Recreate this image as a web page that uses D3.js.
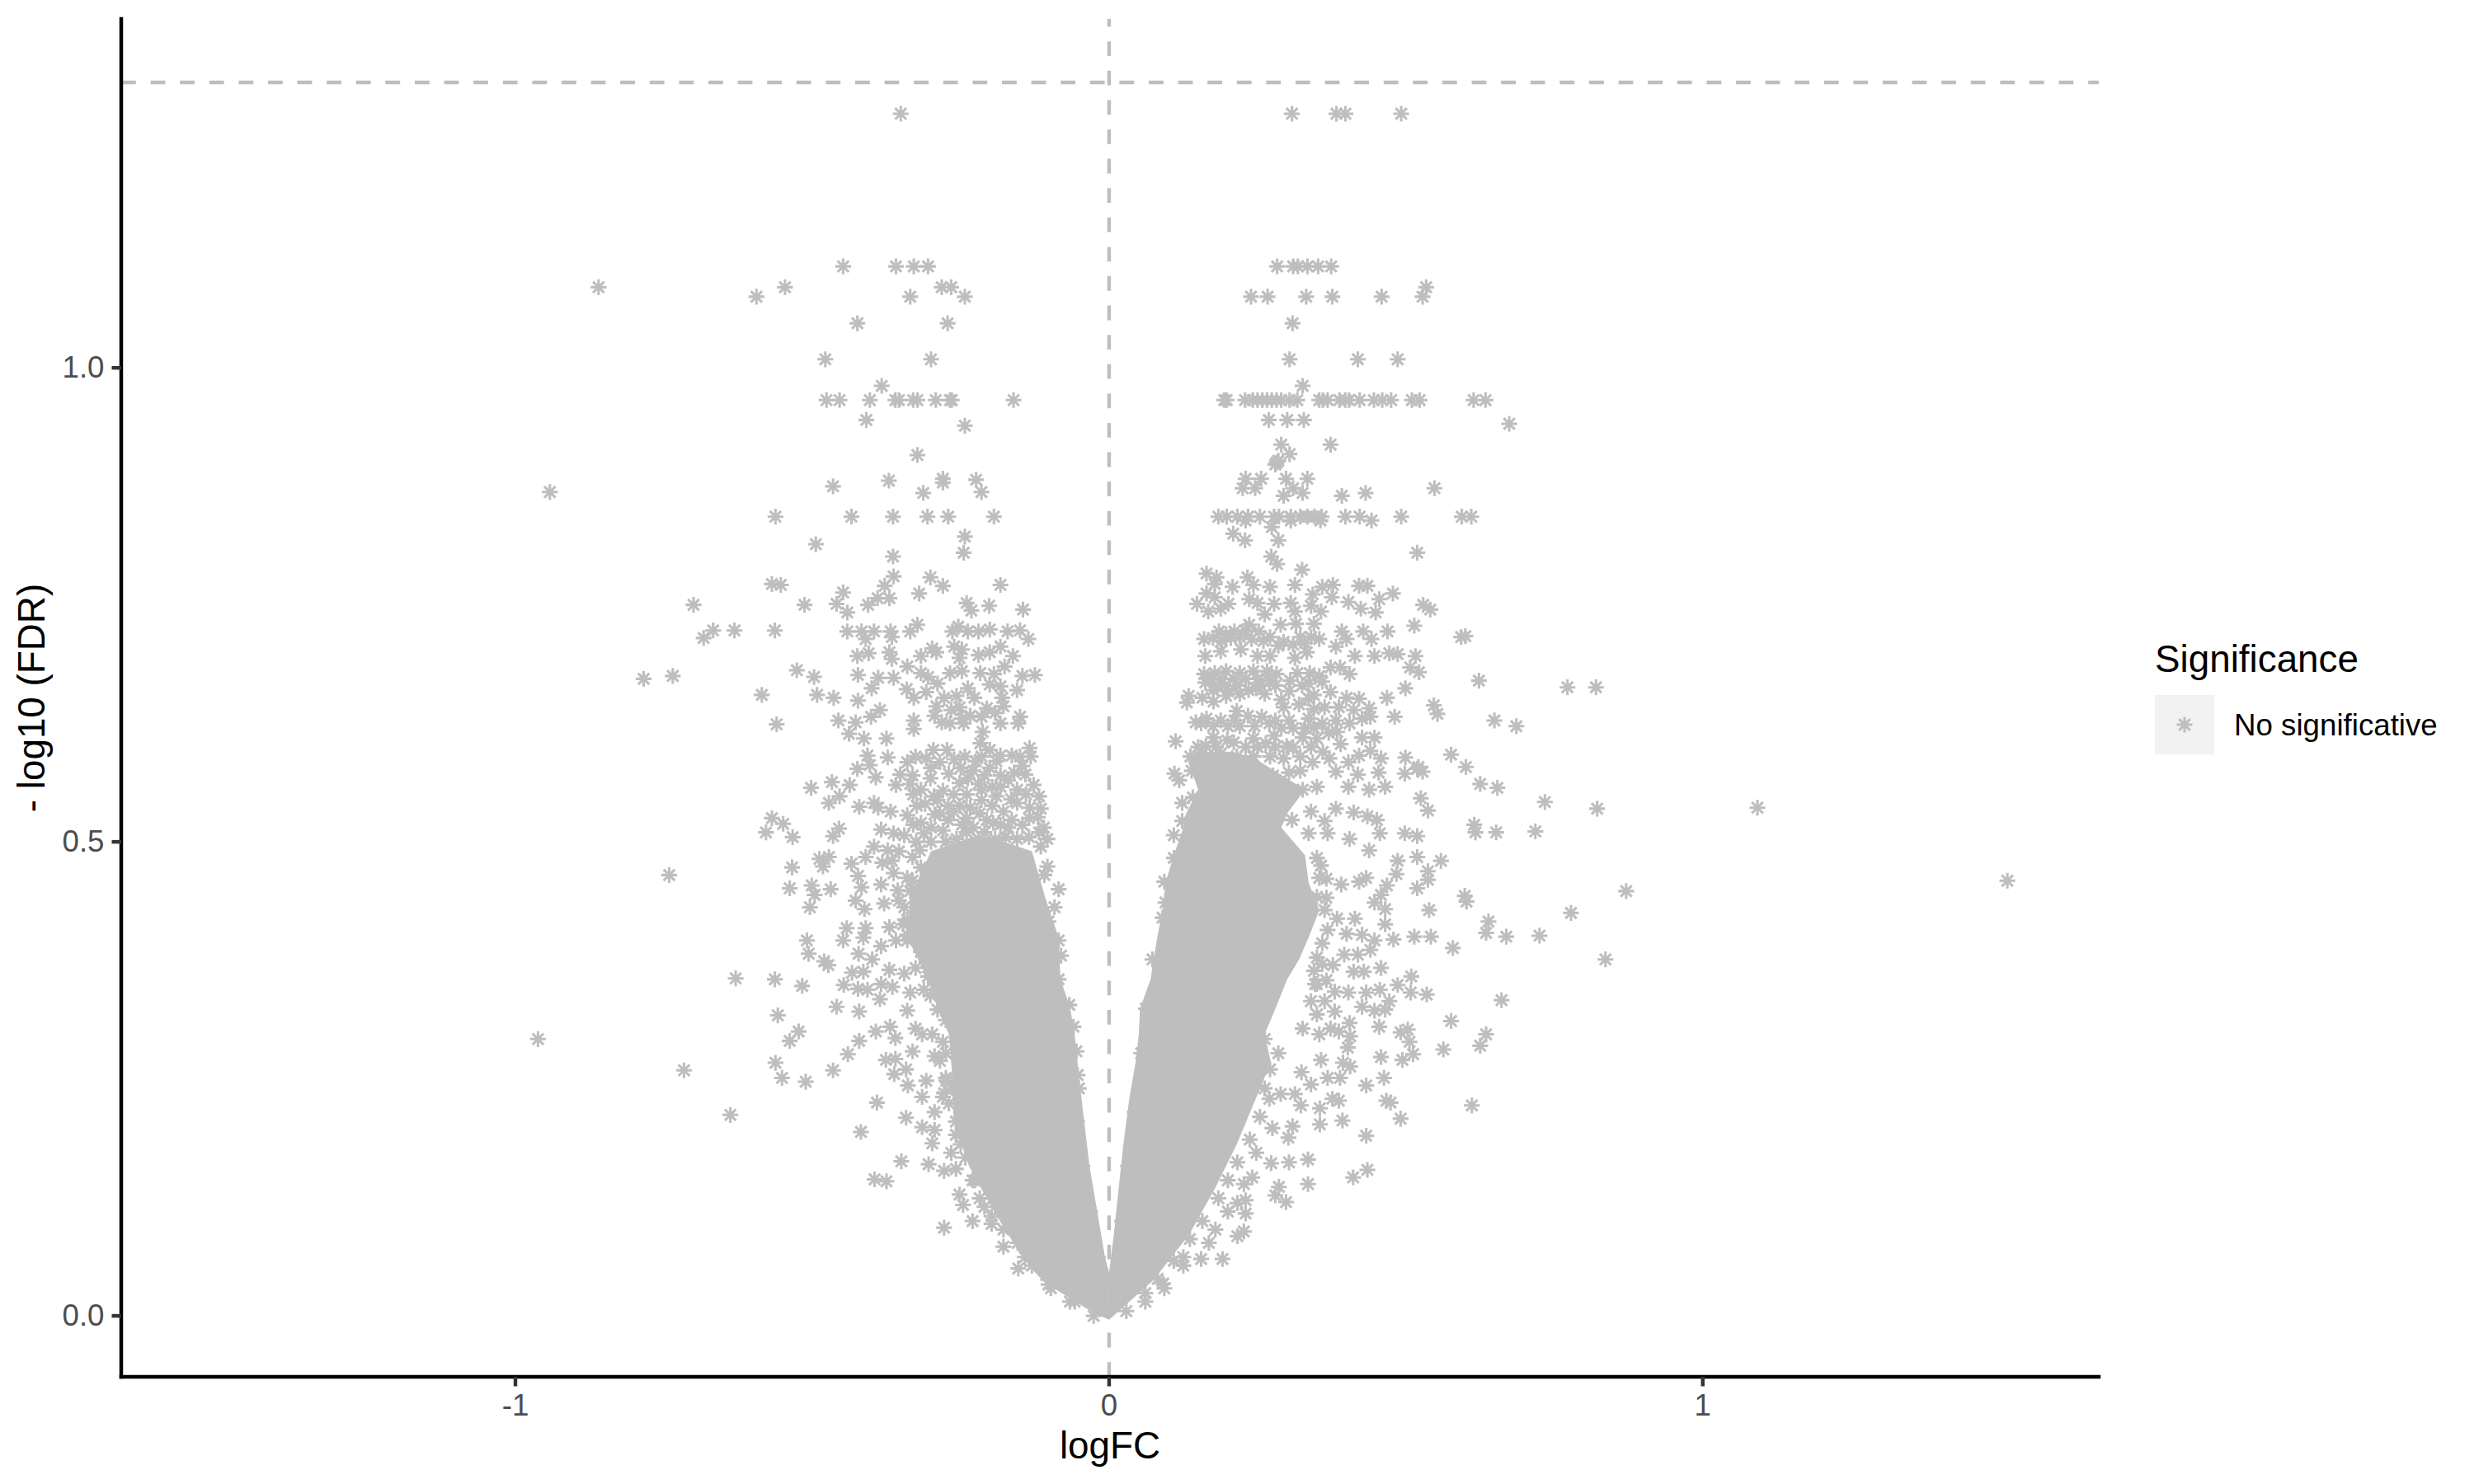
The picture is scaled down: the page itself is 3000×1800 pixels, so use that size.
<!DOCTYPE html>
<html>
<head>
<meta charset="utf-8">
<script src="https://cdn.jsdelivr.net/npm/d3@7"></script>
<style>
  html, body { margin: 0; padding: 0; background: #fff; }
  text { font-family: "Liberation Sans", Arial, sans-serif; }
</style>
</head>
<body>
<div id="chart"></div>
<script>
// values: [logFC, -log10(FDR)]
var xTicks = [-1, 0, 1];
var yTicks = [0, 0.5, 1];
var xDomain = [-1.664, 1.667];
var yDomain = [-0.0643, 1.368];
var hLineValue = 1.301;
var vLineValue = 0;
var legendTitle = "Significance";
var legendLabel = "No significative";

var upperLeft = [[-.351,1.268],[-.448,1.107],[-.359,1.107],[-.329,1.107],[-.305,1.107],[-.860,1.085],[-.546,1.085],[-.282,1.085],[-.266,1.085],[-.594,1.075],[-.335,1.075],[-.243,1.075],[-.424,1.047],[-.272,1.047],[-.478,1.009],[-.300,1.009],[-.383,.981],[-.476,.966],[-.454,.966],[-.403,.966],[-.360,.966],[-.354,.966],[-.330,.966],[-.323,.966],[-.292,.966],[-.268,.966],[-.265,.966],[-.161,.966],[-.409,.945],[-.243,.939],[-.323,.908],[-.371,.881],[-.280,.883],[-.280,.879],[-.224,.882],[-.465,.875],[-.313,.868],[-.215,.869],[-.942,.869],[-.562,.843],[-.434,.843],[-.364,.843],[-.306,.843],[-.271,.843],[-.194,.843],[-.243,.822],[-.494,.814],[-.245,.805],[-.364,.801],[-.363,.780],[-.301,.779],[-.568,.772],[-.553,.771],[-.378,.770],[-.280,.770],[-.183,.771],[-.448,.763],[-.320,.762],[-.390,.757],[-.370,.757],[-.700,.750],[-.513,.750],[-.459,.751],[-.406,.750],[-.441,.742],[-.240,.752],[-.232,.744],[-.202,.749],[-.145,.745],[-.667,.723],[-.631,.723],[-.563,.723],[-.683,.715]];

var farLeft = [[-.784,.672],[-.735,.675],[-.526,.681],[-.497,.674],[-.585,.655],[-.492,.655],[-.560,.624],[-.502,.557],[-.568,.525],[-.549,.519],[-.578,.510],[-.533,.505],[-.488,.482],[-.482,.474],[-.534,.473],[-.741,.465],[-.538,.451],[-.501,.454],[-.496,.444],[-.504,.431],[-.509,.396],[-.506,.382],[-.480,.374],[-.629,.356],[-.563,.355],[-.517,.348],[-.558,.317],[-.523,.300],[-.538,.290],[-.962,.292],[-.562,.267],[-.716,.259],[-.551,.251],[-.511,.247],[-.638,.212]];

var bottomLeft = [[-.294,.215],[-.342,.209],[-.315,.199],[-.294,.196],[-.418,.194],[-.298,.182],[-.350,.163],[-.304,.160],[-.278,.153],[-.258,.155],[-.266,.172],[-.395,.144],[-.375,.142],[-.252,.128],[-.246,.117],[-.230,.100],[-.198,.097],[-.278,.093],[-.178,.073],[-.153,.050],[-.142,.062],[-.102,.033],[-.226,.143],[-.210,.115],[-.250,.181],[-.258,.205],[-.198,.134],[-.154,.089],[-.122,.062],[-.138,.074],[-.106,.043],[-.058,.015],[-.026,0],[-.054,.205],[-.045,.158],[-.032,.110],[-.019,.062]];

var denseLeftA = [[-.296,.597],[-.273,.597],[-.243,.590],[-.326,.590],[-.308,.588],[-.340,.584],[-.285,.584],[-.261,.587],[-.215,.590],[-.201,.597],[-.183,.591],[-.164,.591],[-.134,.599],[-.132,.590],[-.146,.580],[-.229,.575],[-.201,.578],[-.183,.570],[-.160,.573],[-.141,.571],[-.238,.567],[-.220,.561],[-.197,.558],[-.183,.558],[-.127,.560],[-.155,.555],[-.118,.548],[-.252,.562],[-.280,.554],[-.317,.555],[-.301,.567],[-.331,.570],[-.352,.571],[-.359,.560],[-.335,.561],[-.289,.544],[-.271,.538],[-.252,.538],[-.234,.536],[-.215,.544],[-.197,.538],[-.178,.532],[-.155,.541],[-.134,.536],[-.120,.526],[-.324,.538],[-.340,.528],[-.368,.532],[-.396,.541],[-.384,.513],[-.363,.509],[-.317,.520],[-.294,.529],[-.271,.523],[-.248,.518],[-.229,.515],[-.206,.523],[-.183,.518],[-.164,.523],[-.146,.518],[-.118,.510],[-.104,.503],[-.280,.512],[-.312,.509],[-.345,.507],[-.257,.503],[-.220,.503],[-.192,.503],[-.155,.503]];

var denseLeftB = [[-.254,.727],[-.264,.722],[-.238,.722],[-.220,.722],[-.201,.724],[-.171,.722],[-.150,.723],[-.136,.714],[-.261,.706],[-.248,.703],[-.220,.697],[-.201,.700],[-.183,.706],[-.162,.696],[-.298,.704],[-.317,.696],[-.291,.700],[-.252,.694],[-.176,.685],[-.340,.685],[-.317,.678],[-.305,.674],[-.268,.678],[-.248,.680],[-.217,.678],[-.194,.677],[-.146,.675],[-.125,.676],[-.289,.667],[-.201,.666],[-.238,.662],[-.183,.664],[-.155,.660],[-.308,.658],[-.329,.652],[-.278,.652],[-.257,.654],[-.227,.652],[-.180,.652],[-.252,.642],[-.291,.643],[-.294,.633],[-.266,.639],[-.248,.630],[-.206,.641],[-.178,.643],[-.234,.633],[-.215,.632],[-.192,.636],[-.150,.632],[-.282,.626],[-.268,.625],[-.245,.625],[-.183,.625],[-.153,.625],[-.213,.616],[-.217,.604]];

var denseLeftC = [[-.300,.578],[-.270,.572],[-.250,.578],[-.225,.585],[-.210,.570],[-.190,.585],[-.170,.565],[-.150,.590],[-.310,.540],[-.330,.550],[-.295,.548],[-.262,.550],[-.240,.550],[-.215,.555],[-.190,.548],[-.165,.545],[-.140,.550],[-.115,.535],[-.330,.518],[-.300,.515],[-.285,.530],[-.262,.532],[-.240,.525],[-.218,.530],[-.195,.520],[-.170,.515],[-.135,.525],[-.110,.515],[-.325,.500],[-.300,.500],[-.275,.500],[-.240,.510],[-.210,.510],[-.175,.505],[-.135,.505],[-.115,.495]];

var looseLeftA = [[-.441,.722],[-.417,.722],[-.410,.714],[-.396,.722],[-.368,.722],[-.366,.716],[-.335,.722],[-.323,.729],[-.424,.696],[-.405,.699],[-.370,.700],[-.366,.693],[-.423,.676],[-.389,.673],[-.363,.673],[-.400,.662],[-.341,.661],[-.464,.652],[-.423,.649],[-.456,.628],[-.427,.626],[-.438,.614],[-.413,.609],[-.375,.609],[-.386,.639],[-.401,.632],[-.329,.628],[-.329,.619],[-.407,.591],[-.373,.589],[-.403,.581],[-.424,.577],[-.393,.568],[-.437,.560],[-.454,.548],[-.467,.563],[-.472,.541],[-.421,.537],[-.389,.536],[-.455,.514],[-.465,.506]];

var looseLeftB = [[-.472,.484],[-.434,.477],[-.410,.484],[-.396,.495],[-.373,.491],[-.382,.478],[-.366,.480],[-.354,.490],[-.331,.484],[-.423,.464],[-.417,.452],[-.469,.450],[-.384,.455],[-.363,.467],[-.340,.462],[-.356,.449],[-.335,.448],[-.427,.438],[-.412,.429],[-.379,.435],[-.354,.438],[-.322,.439],[-.442,.409],[-.410,.409],[-.448,.396],[-.414,.399],[-.370,.410],[-.340,.418],[-.359,.396],[-.384,.390],[-.340,.396],[-.317,.384],[-.422,.382],[-.399,.376],[-.370,.365],[-.473,.370],[-.433,.362],[-.414,.363],[-.447,.349],[-.423,.345],[-.407,.344],[-.384,.350],[-.365,.347],[-.386,.334],[-.345,.361],[-.326,.367],[-.335,.341],[-.312,.344],[-.340,.322],[-.459,.326],[-.421,.321],[-.393,.300],[-.369,.305],[-.360,.293],[-.421,.290],[-.440,.276],[-.331,.279],[-.326,.303],[-.298,.297],[-.315,.297],[-.376,.270],[-.360,.271],[-.362,.255],[-.342,.260],[-.465,.259],[-.339,.243],[-.308,.248],[-.315,.231],[-.391,.225],[-.278,.235],[-.294,.274],[-.275,.277]];

var edgeLeft = [[-.085,.450],[-.104,.474],[-.092,.431],[-.085,.396],[-.081,.380],[-.085,.355],[-.067,.328],[-.060,.305],[-.055,.279],[-.053,.254],[-.051,.240],[-.109,.465],[-.102,.416],[-.319,.491],[-.317,.473],[-.331,.459],[-.345,.431],[-.347,.413],[-.340,.402],[-.319,.391],[-.308,.373],[-.305,.358],[-.301,.338],[-.289,.323],[-.275,.312],[-.280,.289],[-.285,.269],[-.275,.251],[-.264,.240],[-.280,.231],[-.274,.248],[-.270,.224],[-.258,.191],[-.242,.167],[-.230,.143],[-.218,.124],[-.198,.105],[-.178,.091],[-.154,.077],[-.130,.053],[-.098,.029],[-.066,.015]];

var upperRight = [[.308,1.268],[.383,1.268],[.398,1.268],[.492,1.268],[.283,1.107],[.310,1.107],[.318,1.107],[.334,1.107],[.352,1.107],[.374,1.107],[.534,1.085],[.239,1.075],[.267,1.075],[.332,1.075],[.376,1.075],[.459,1.075],[.528,1.075],[.309,1.047],[.304,1.009],[.419,1.009],[.486,1.009],[.326,.981],[.194,.966],[.198,.966],[.229,.966],[.242,.966],[.250,.966],[.258,.966],[.266,.966],[.274,.966],[.282,.966],[.290,.966],[.304,.966],[.317,.966],[.354,.966],[.360,.966],[.368,.966],[.388,.966],[.398,.966],[.404,.966],[.422,.966],[.446,.966],[.460,.966],[.475,.966],[.510,.966],[.523,.966],[.614,.966],[.634,.966],[.269,.945],[.300,.945],[.328,.945],[.674,.941],[.290,.919],[.373,.919],[.304,.909],[.282,.900],[.285,.902],[.280,.898],[.230,.883],[.256,.883],[.298,.883],[.334,.883],[.225,.873],[.246,.873],[.310,.873],[.548,.873],[.326,.868],[.432,.868],[.294,.865],[.392,.865],[.184,.843],[.198,.843],[.216,.843],[.234,.843],[.254,.843],[.278,.843],[.286,.843],[.306,.843],[.322,.843],[.334,.843],[.346,.843],[.358,.843],[.398,.843],[.422,.843],[.492,.843],[.594,.843],[.610,.843],[.230,.839],[.356,.839],[.442,.839],[.306,.839],[.274,.832],[.209,.825],[.229,.818],[.285,.818],[.519,.805],[.273,.801],[.283,.793],[.325,.787],[.164,.783],[.181,.779],[.233,.779]];

var farRight = [[.529,.750],[.541,.745],[.593,.716],[.600,.717],[.623,.670],[.772,.663],[.820,.663],[.522,.679],[.547,.644],[.553,.635],[.649,.628],[.686,.622],[.576,.592],[.601,.579],[.521,.579],[.528,.574],[.625,.561],[.654,.557],[.734,.542],[.822,.535],[1.092,.536],[.525,.546],[.537,.533],[.615,.518],[.617,.510],[.652,.510],[.718,.511],[.559,.480],[.537,.469],[.537,.460],[.599,.443],[.602,.437],[.871,.448],[1.513,.459],[.539,.428],[.778,.425],[.639,.416],[.635,.404],[.669,.400],[.725,.401],[.542,.400],[.579,.388],[.836,.376],[.535,.339],[.661,.333],[.576,.311],[.635,.297],[.625,.285],[.563,.281],[.611,.222],[.467,.227],[.376,.229]];

var bottomRight = [[.491,.208],[.355,.219],[.323,.222],[.393,.206],[.355,.202],[.309,.200],[.433,.190],[.302,.188],[.275,.198],[.335,.165],[.303,.162],[.273,.161],[.435,.154],[.411,.146],[.335,.139],[.286,.136],[.280,.127],[.298,.120],[.241,.146],[.230,.122],[.200,.110],[.230,.108],[.227,.089],[.216,.084],[.168,.077],[.155,.060],[.191,.060],[.091,.034],[.125,.062],[.179,.091],[.216,.119],[.125,.053],[.093,.029],[.061,.015],[.029,.005],[.227,.139],[.248,.172],[.073,.376],[.062,.324],[.054,.277],[.043,.215],[.032,.158],[.022,.100]];

var denseRightA = [[.148,.751],[.167,.743],[.178,.758],[.188,.746],[.201,.751],[.164,.762],[.178,.772],[.208,.769],[.236,.756],[.250,.752],[.262,.740],[.243,.771],[.271,.769],[.278,.751],[.313,.771],[.306,.752],[.313,.743],[.343,.761],[.340,.749],[.357,.743],[.359,.769],[.377,.771],[.375,.758],[.403,.753],[.424,.746],[.421,.770],[.435,.770],[.455,.756],[.449,.742],[.478,.762],[.236,.729],[.289,.729],[.315,.730],[.345,.730],[.392,.722],[.400,.714],[.428,.722],[.442,.714],[.469,.722],[.514,.728],[.382,.706],[.414,.696],[.447,.696],[.472,.699],[.486,.698],[.507,.684],[.516,.696],[.405,.677],[.373,.684],[.389,.684],[.185,.722],[.197,.719],[.211,.722],[.229,.723],[.252,.722],[.271,.716],[.294,.711],[.322,.716],[.340,.716],[.354,.714],[.160,.714],[.162,.696],[.188,.701],[.222,.703],[.250,.696],[.271,.696],[.313,.694],[.333,.700]];

var denseRightB = [[.160,.677],[.178,.678],[.197,.680],[.220,.678],[.243,.680],[.266,.680],[.282,.677],[.317,.678],[.338,.678],[.354,.675],[.162,.668],[.183,.665],[.201,.659],[.220,.656],[.248,.662],[.262,.656],[.303,.659],[.336,.667],[.373,.658],[.359,.669],[.134,.654],[.131,.647],[.157,.652],[.176,.648],[.215,.638],[.197,.654],[.294,.642],[.336,.651],[.363,.642],[.387,.642],[.400,.652],[.421,.651],[.438,.641],[.412,.639],[.426,.630],[.440,.632],[.468,.652],[.499,.662],[.481,.632],[.146,.626],[.164,.630],[.188,.628],[.211,.628],[.234,.633],[.257,.632],[.280,.628],[.303,.628],[.359,.625],[.382,.628],[.405,.625],[.336,.630],[.176,.610],[.199,.607],[.243,.609],[.264,.604],[.278,.612],[.299,.601],[.326,.610],[.350,.609],[.384,.616],[.390,.603],[.426,.610],[.447,.610],[.440,.596],[.112,.606],[.163,.601]];

var denseRightC = [[.137,.590],[.157,.593],[.188,.593],[.215,.590],[.243,.590],[.271,.590],[.294,.588],[.322,.590],[.343,.584],[.371,.588],[.403,.584],[.421,.591],[.458,.588],[.499,.589],[.519,.577],[.110,.572],[.118,.565],[.139,.575],[.164,.573],[.192,.575],[.220,.573],[.248,.575],[.276,.570],[.303,.573],[.322,.575],[.382,.574],[.419,.571],[.454,.573],[.498,.572],[.350,.558],[.326,.555],[.403,.558],[.438,.555],[.465,.558],[.123,.541],[.123,.522],[.109,.507],[.141,.547],[.340,.532],[.363,.522],[.382,.535],[.412,.531],[.435,.527],[.451,.523],[.456,.509],[.498,.509],[.519,.506],[.308,.523],[.336,.509],[.368,.509],[.405,.503]];

var denseRightD = [[.175,.715],[.190,.712],[.205,.715],[.220,.716],[.240,.714],[.260,.712],[.285,.707],[.310,.708],[.330,.710],[.170,.672],[.190,.672],[.210,.672],[.230,.672],[.250,.672],[.270,.670],[.175,.660],[.195,.665],[.215,.665],[.235,.660],[.255,.665],[.280,.665],[.290,.650],[.305,.670],[.325,.665],[.345,.655],[.320,.645],[.345,.640],[.155,.625],[.175,.622],[.200,.622],[.220,.622],[.245,.622],[.270,.625],[.290,.620],[.310,.620],[.330,.620],[.345,.620],[.370,.615],[.150,.600],[.180,.600],[.210,.605],[.230,.600],[.250,.600],[.280,.600],[.310,.600],[.340,.600],[.360,.595]];

var looseRight = [[.093,.458],[.095,.436],[.090,.420],[.109,.483],[.438,.491],[.486,.480],[.484,.466],[.519,.484],[.519,.451],[.421,.458],[.433,.462],[.468,.454],[.458,.444],[.447,.436],[.465,.429],[.465,.413],[.414,.419],[.384,.419],[.366,.441],[.391,.455],[.357,.475],[.366,.461],[.400,.403],[.426,.402],[.479,.397],[.514,.400],[.447,.396],[.440,.386],[.419,.381],[.396,.381],[.377,.370],[.359,.371],[.412,.363],[.429,.363],[.458,.367],[.509,.358],[.486,.349],[.508,.341],[.403,.341],[.433,.341],[.456,.344],[.472,.332],[.426,.326],[.447,.322],[.465,.323],[.380,.342],[.366,.354],[.347,.350],[.363,.332],[.380,.321],[.455,.305],[.405,.309],[.406,.295],[.402,.283],[.491,.299],[.503,.302],[.506,.289],[.512,.276],[.494,.270],[.458,.273],[.357,.270],[.394,.267],[.406,.263],[.368,.251],[.389,.251],[.324,.257],[.340,.244],[.433,.243],[.463,.251],[.387,.227],[.474,.225],[.313,.234],[.289,.234],[.354,.297],[.387,.300],[.373,.303]];

var edgeRight = [[.350,.483],[.354,.462],[.350,.442],[.363,.428],[.368,.407],[.359,.393],[.350,.378],[.345,.364],[.350,.350],[.340,.332],[.350,.318],[.326,.303],[.262,.292],[.285,.277],[.271,.260],[.262,.240],[.270,.229],[.254,.210],[.237,.186],[.216,.162],[.200,.143],[.184,.124],[.157,.100],[.136,.081],[.109,.058],[.082,.039],[.061,.024]];

// the points overlap into a solid mass at the bottom of each wing, traced as [y, outer x, inner x]
var leftMass = [[.505,-.230,-.200],[.490,-.300,-.130],[.442,-.335,-.108],[.399,-.340,-.085],[.355,-.305,-.082],[.326,-.290,-.066],[.297,-.270,-.058],[.260,-.265,-.052],[.205,-.262,-.042],[.158,-.236,-.033],[.110,-.194,-.020],[.062,-.146,-.007],[.046,-.125,0],[.034,-.106,0],[.003,-.026,0],[-.004,0,0]];
var rightMass = [[.595,.200,.160],[.590,.240,.130],[.555,.330,.150],[.530,.300,.130],[.515,.290,.125],[.486,.330,.109],[.457,.336,.095],[.428,.354,.090],[.399,.336,.081],[.376,.320,.075],[.355,.300,.070],[.324,.280,.052],[.297,.262,.050],[.269,.272,.045],[.240,.255,.037],[.229,.247,.034],[.181,.215,.024],[.134,.178,.016],[.086,.135,.008],[.046,.085,0],[.039,.077,0],[.003,.013,0],[-.004,0,0]];

var allPoints = upperLeft.concat(farLeft, bottomLeft, denseLeftA, denseLeftB, denseLeftC, looseLeftA, looseLeftB, edgeLeft,
    upperRight, farRight, bottomRight, denseRightA, denseRightB, denseRightC, denseRightD, looseRight, edgeRight);

var width = 3000, height = 1800;
var panel = { left: 147, right: 2545, top: 23, bottom: 1670 };
var grey = "#BEBEBE";
var starRadius = 9.6;
var starStroke = 3.1;

var svg = d3.select("#chart").append("svg")
    .attr("width", width)
    .attr("height", height)
    .style("display", "block");

var x = d3.scaleLinear().domain(xDomain).range([panel.left, panel.right]);
var y = d3.scaleLinear().domain(yDomain).range([panel.bottom, panel.top]);

// R pch 8
var star = {
    draw: function (ctx, size) {
        var r = Math.sqrt(size), d = r * Math.SQRT1_2;
        ctx.moveTo(-r, 0); ctx.lineTo(r, 0);
        ctx.moveTo(0, -r); ctx.lineTo(0, r);
        ctx.moveTo(-d, -d); ctx.lineTo(d, d);
        ctx.moveTo(-d, d); ctx.lineTo(d, -d);
    }
};
var starPath = d3.symbol().type(star).size(starRadius * starRadius);

// reference lines, under the points
svg.append("line")
    .attr("x1", x(vLineValue)).attr("x2", x(vLineValue))
    .attr("y1", panel.bottom).attr("y2", panel.top)
    .attr("stroke", grey).attr("stroke-width", 4.45).attr("stroke-dasharray", "17.8 17.8");
svg.append("line")
    .attr("x1", panel.left).attr("x2", panel.right)
    .attr("y1", y(hLineValue)).attr("y2", y(hLineValue))
    .attr("stroke", grey).attr("stroke-width", 4.45).attr("stroke-dasharray", "17.8 17.8");

var massArea = d3.area()
    .y(d => y(d[0]))
    .x0(d => x(d[1]))
    .x1(d => x(d[2]));

svg.selectAll("path.mass")
    .data([leftMass, rightMass])
    .join("path")
    .attr("class", "mass")
    .attr("d", massArea)
    .attr("fill", grey);

svg.append("g").selectAll("path")
    .data(allPoints)
    .join("path")
    .attr("d", starPath)
    .attr("transform", d => "translate(" + x(d[0]) + "," + y(d[1]) + ")")
    .attr("fill", "none")
    .attr("stroke", grey)
    .attr("stroke-width", starStroke);

// axes
var xAxis = d3.axisBottom(x).tickValues(xTicks).tickSize(11.5).tickSizeOuter(0).tickPadding(9).offset(0);
var yAxis = d3.axisLeft(y).tickValues(yTicks).tickFormat(d3.format(".1f")).tickSize(11.5).tickSizeOuter(0).tickPadding(9).offset(0);

function styleAxis(g) {
    g.select(".domain").attr("stroke", "#000").attr("stroke-width", 4.45).attr("stroke-linecap", "square");
    g.selectAll(".tick line").attr("stroke", "#333333").attr("stroke-width", 4.45);
    g.selectAll(".tick text")
        .attr("fill", "#4D4D4D")
        .style("font-size", "36.7px")
        .style("font-family", "'Liberation Sans', Arial, sans-serif");
}

svg.append("g")
    .attr("transform", "translate(0," + panel.bottom + ")")
    .call(xAxis)
    .call(g => g.selectAll(".tick text").text(d => String(d)))
    .call(styleAxis);

svg.append("g")
    .attr("transform", "translate(" + panel.left + ",0)")
    .call(yAxis)
    .call(styleAxis);

// axis titles
svg.append("text")
    .attr("x", (panel.left + panel.right) / 2)
    .attr("y", 1769)
    .attr("text-anchor", "middle")
    .style("font-size", "45.8px")
    .text("logFC");

svg.append("text")
    .attr("transform", "translate(54," + (panel.top + panel.bottom) / 2 + ") rotate(-90)")
    .attr("text-anchor", "middle")
    .style("font-size", "45.8px")
    .text("- log10 (FDR)");

// legend
svg.append("text")
    .attr("x", 2613).attr("y", 815)
    .style("font-size", "45.8px")
    .text(legendTitle);

svg.append("rect")
    .attr("x", 2613).attr("y", 843)
    .attr("width", 72).attr("height", 72)
    .attr("fill", "#F2F2F2");

svg.append("path")
    .attr("d", starPath)
    .attr("transform", "translate(2649,879)")
    .attr("fill", "none")
    .attr("stroke", grey)
    .attr("stroke-width", starStroke);

svg.append("text")
    .attr("x", 2709).attr("y", 892)
    .style("font-size", "36.7px")
    .text(legendLabel);
</script>
</body>
</html>
